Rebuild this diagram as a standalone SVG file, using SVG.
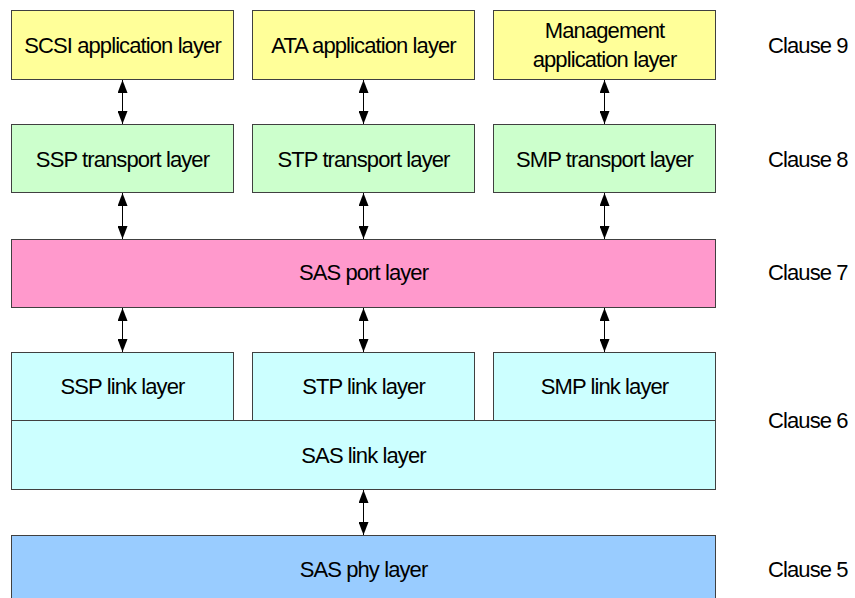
<svg xmlns="http://www.w3.org/2000/svg" width="855" height="598" viewBox="0 0 855 598">
<style>
.box{stroke:#404040;stroke-width:1}
.app{fill:#FFFF99}
.tr{fill:#CCFFCC}
.port{fill:#FF99CC}
.link{fill:#CCFFFF}
.phy{fill:#99CCFF}
text{font-family:"Liberation Sans",Arial,sans-serif;font-size:22px;letter-spacing:-0.9px;fill:#000;text-anchor:middle}
text.cl{text-anchor:start}
.conn line{stroke:#000;stroke-width:1;marker-start:url(#ah);marker-end:url(#ah)}
</style>
<defs>
<marker id="ah" viewBox="0 0 13 10" refX="13" refY="5" markerWidth="13" markerHeight="10" markerUnits="userSpaceOnUse" orient="auto-start-reverse">
<path d="M0,0 L13,5 L0,10 z" fill="#000"/>
</marker>
</defs>
<rect width="855" height="598" fill="#fff"/>
<g id="scsi-app"><rect class="box app" x="11.5" y="10.5" width="222" height="69"/><text x="122.5" y="53">SCSI application layer</text></g>
<g id="ata-app"><rect class="box app" x="252.5" y="10.5" width="222" height="69"/><text x="363.5" y="53">ATA application layer</text></g>
<g id="mgmt-app"><rect class="box app" x="493.5" y="10.5" width="222" height="69"/><text x="604.5" y="38">Management</text><text x="604.5" y="67">application layer</text></g>
<g id="ssp-tr"><rect class="box tr" x="11.5" y="124.5" width="222" height="68"/><text x="122.5" y="167">SSP transport layer</text></g>
<g id="stp-tr"><rect class="box tr" x="252.5" y="124.5" width="222" height="68"/><text x="363.5" y="167">STP transport layer</text></g>
<g id="smp-tr"><rect class="box tr" x="493.5" y="124.5" width="222" height="68"/><text x="604.5" y="167">SMP transport layer</text></g>
<g id="sas-port"><rect class="box port" x="11.5" y="239.5" width="704" height="68"/><text x="363.5" y="280">SAS port layer</text></g>
<g id="ssp-link"><rect class="box link" x="11.5" y="352.5" width="222" height="68"/><text x="122.5" y="394">SSP link layer</text></g>
<g id="stp-link"><rect class="box link" x="252.5" y="352.5" width="222" height="68"/><text x="363.5" y="394">STP link layer</text></g>
<g id="smp-link"><rect class="box link" x="493.5" y="352.5" width="222" height="68"/><text x="604.5" y="394">SMP link layer</text></g>
<g id="sas-link"><rect class="box link" x="11.5" y="420.5" width="704" height="69"/><text x="363.5" y="463">SAS link layer</text></g>
<g id="sas-phy"><rect class="box phy" x="11.5" y="535.5" width="704" height="70"/><text x="363.5" y="577">SAS phy layer</text></g>
<g id="clauses">
<text class="cl" x="768" y="53">Clause 9</text>
<text class="cl" x="768" y="167">Clause 8</text>
<text class="cl" x="768" y="280">Clause 7</text>
<text class="cl" x="768" y="428">Clause 6</text>
<text class="cl" x="768" y="577">Clause 5</text>
</g>
<g class="conn" id="connectors">
<line x1="122.5" y1="80" x2="122.5" y2="124"/>
<line x1="363.5" y1="80" x2="363.5" y2="124"/>
<line x1="604.5" y1="80" x2="604.5" y2="124"/>
<line x1="122.5" y1="193" x2="122.5" y2="239"/>
<line x1="363.5" y1="193" x2="363.5" y2="239"/>
<line x1="604.5" y1="193" x2="604.5" y2="239"/>
<line x1="122.5" y1="308" x2="122.5" y2="352"/>
<line x1="363.5" y1="308" x2="363.5" y2="352"/>
<line x1="604.5" y1="308" x2="604.5" y2="352"/>
<line x1="363.5" y1="490" x2="363.5" y2="535"/>
</g>
</svg>
